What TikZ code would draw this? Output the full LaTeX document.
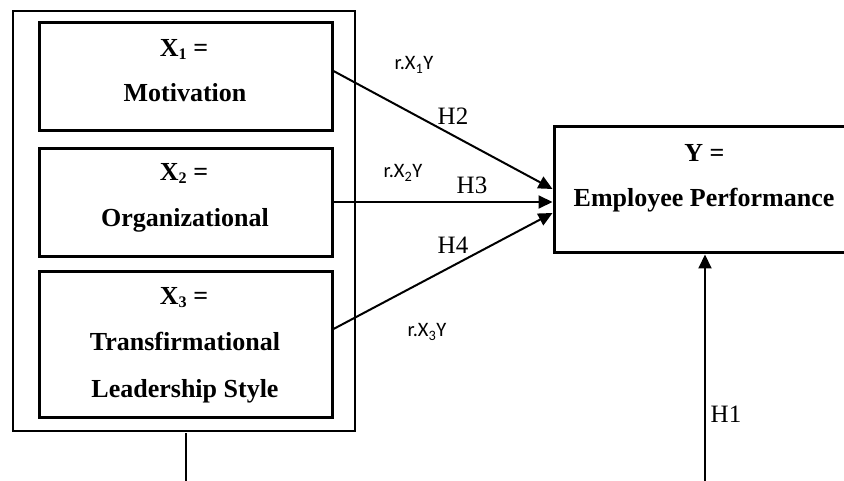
\documentclass[tikz,border=0pt]{standalone}
\usepackage{fontspec}
\setmainfont{Liberation Serif}
\newfontfamily\calfont{Carlito}
\usetikzlibrary{arrows.meta,calc}
\makeatletter
\newcommand\lowdigit[1]{\raisebox{-0.08em}{\fontsize{0.62\dimexpr\f@size pt\relax}{1pt}\selectfont #1}}
\makeatother
\begin{document}
\begin{tikzpicture}[x=1pt,y=-1pt,
  box/.style={draw,line width=3pt,inner sep=0pt},
  outerbox/.style={draw,line width=1.3pt,inner sep=0pt},
  btext/.style={anchor=base,inner sep=0pt,font=\fontsize{26}{30}\selectfont\bfseries},
  htext/.style={anchor=base,inner sep=0pt,font=\fontsize{25}{30}\selectfont},
  rtext/.style={anchor=base,inner sep=0pt,font=\fontsize{20.5}{24}\selectfont\calfont},
  arr/.style={line width=2pt,-{Triangle[length=14pt,width=13pt]}},
  plain/.style={line width=2pt}]
\useasboundingbox (0,0) rectangle (844,481);
\clip (0,0) rectangle (844,481);

% outer frame
\node[outerbox,minimum width=342pt,minimum height=420pt] (outer) at (184,221) {};

% X boxes
\node[box,minimum width=293pt,minimum height=108pt] (b1) at (185.5,77) {};
\node[box,minimum width=293pt,minimum height=108pt] (b2) at (185.5,203) {};
\node[box,minimum width=293pt,minimum height=145pt] (b3) at (185.5,344.5) {};

\node[btext] (t1a) at (184,57) {X\lowdigit{1} =};
\node[btext] (t1b) at (185,102) {Motivation};
\node[btext] (t2a) at (184,181) {X\lowdigit{2} =};
\node[btext] (t2b) at (185,227) {Organizational};
\node[btext] (t3a) at (184,305) {X\lowdigit{3} =};
\node[btext] (t3b) at (185,350) {Transfirmational};
\node[btext] (t3c) at (185,397) {Leadership Style};

% Y box (right side runs off the page)
\node[box,minimum width=316pt,minimum height=126pt] (Y) at (712,190) {};
\node[btext] (ya) at (704.5,162) {Y =};
\node[btext] (yb) at (704,207) {Employee Performance};

% arrows
\draw[arr] ([yshift=6pt]b1.east) -- ([yshift=1pt]Y.west);
\draw[arr] ([yshift=1pt]b2.east) -- ([yshift=-12pt]Y.west);
\draw[arr] ([yshift=15.5pt]b3.east) -- ([yshift=-23pt]Y.west);

\coordinate (h1start) at (705,490);
\draw[arr] (h1start) -- (h1start |- Y.south);

\coordinate (dstart) at (186,433);
\coordinate (dend) at (186,490);
\draw[plain] (dstart) -- (dend);

% labels
\node[rtext] (r1) at (414,70) {r.X\textsubscript{1}Y};
\node[rtext] (r2) at (403,178) {r.X\textsubscript{2}Y};
\node[rtext] (r3) at (427,337) {r.X\textsubscript{3}Y};
\node[htext] (h2) at (453,125) {H2};
\node[htext] (h3) at (472,194) {H3};
\node[htext] (h4) at (453,254) {H4};
\node[htext] (h1) at (726,422) {H1};
\end{tikzpicture}
\end{document}
